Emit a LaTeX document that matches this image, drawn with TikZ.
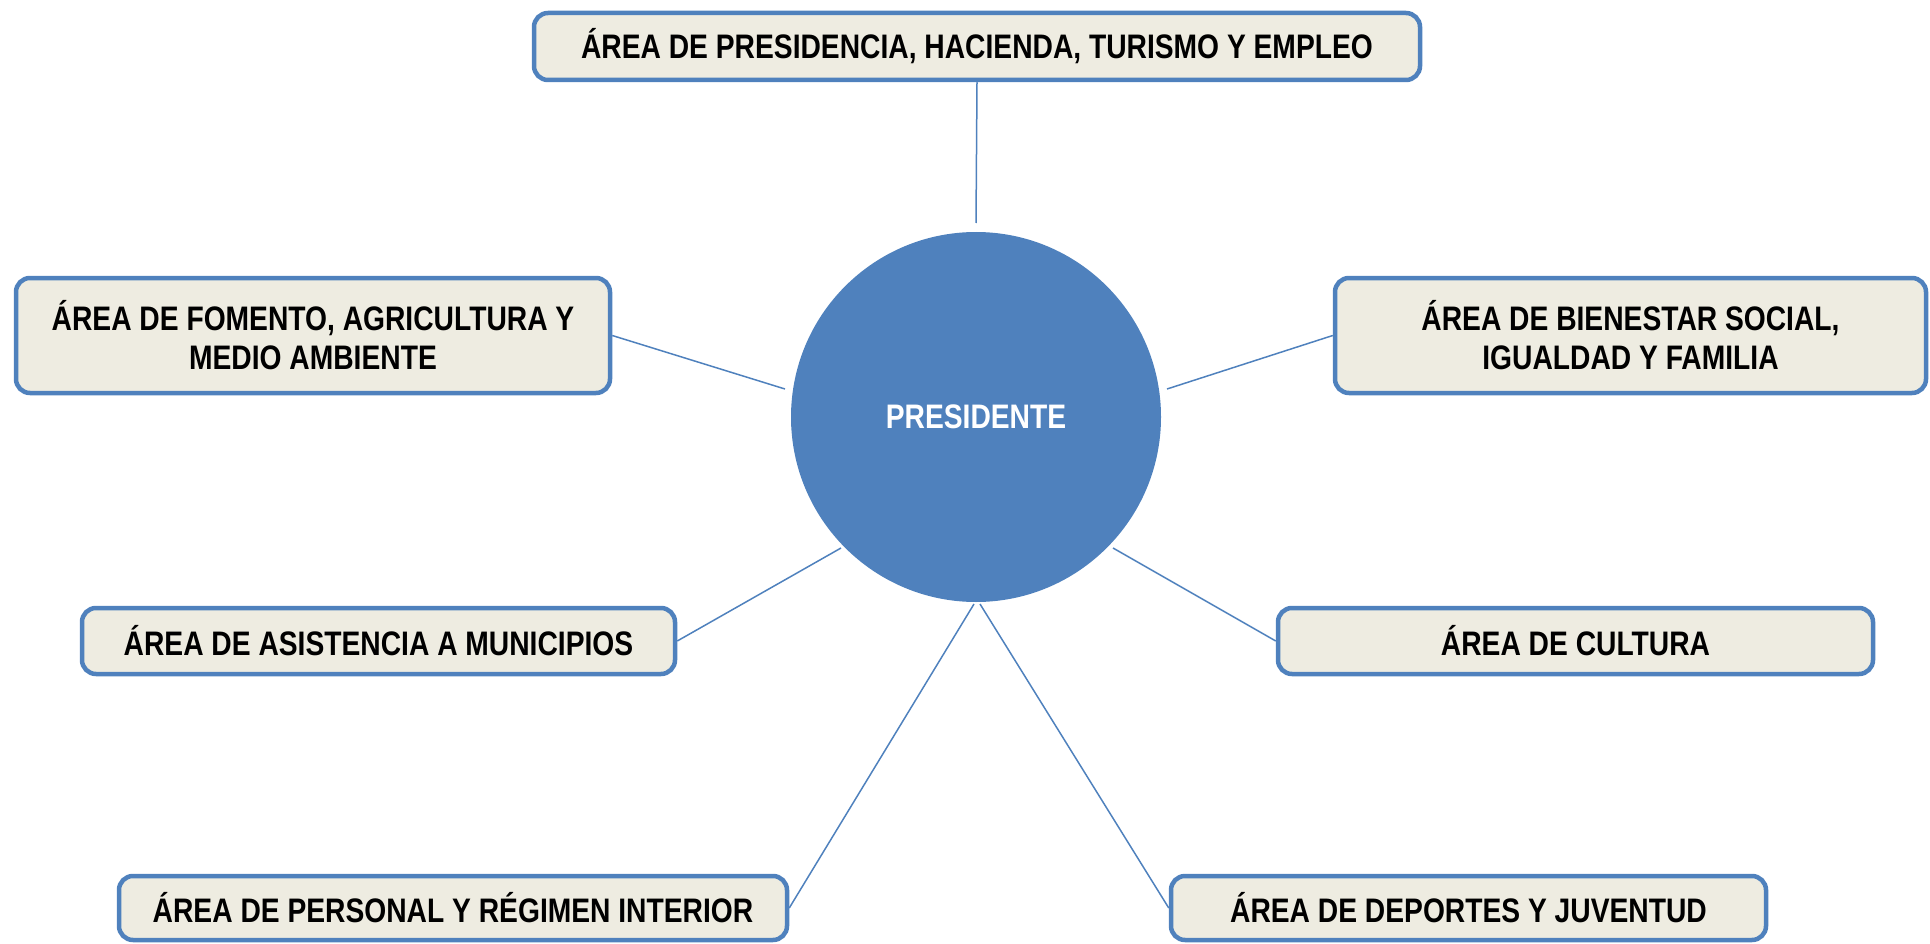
\documentclass[tikz,border=0pt]{standalone}
\usepackage{fontspec}
\setmainfont{Liberation Sans}[FakeStretch=0.83]
\definecolor{boxblue}{HTML}{4F81BD}
\definecolor{boxfill}{HTML}{EEECE1}
\begin{document}
\begin{tikzpicture}[x=1pt,y=-1pt,
  area/.style={draw=boxblue, line width=4.5pt, fill=boxfill, rounded corners=14pt,
    align=center, inner sep=0pt, font=\bfseries\fontsize{34}{39}\selectfont},
  link/.style={draw=boxblue, line width=1.5pt}]
\useasboundingbox (0,0) rectangle (1930,944);
\node[circle, fill=boxblue, minimum size=370pt, inner sep=0pt,
  font=\bfseries\fontsize{34}{39}\selectfont, text=white] (pres) at (976,417) {PRESIDENTE};
\node[area, minimum width=886pt, minimum height=67pt] (top) at (977,46.5)
  {ÁREA DE PRESIDENCIA, HACIENDA, TURISMO Y EMPLEO};
\node[area, minimum width=594pt, minimum height=115pt] (fom) at (313,335.5)
  {ÁREA DE FOMENTO, AGRICULTURA Y\\MEDIO AMBIENTE};
\node[area, minimum width=591pt, minimum height=115pt] (bien) at (1630.5,335.5)
  {ÁREA DE BIENESTAR SOCIAL,\\IGUALDAD Y FAMILIA};
\node[area, minimum width=593pt, minimum height=66pt] (asi) at (378.5,641)
  {ÁREA DE ASISTENCIA A MUNICIPIOS};
\node[area, minimum width=595pt, minimum height=66pt] (cul) at (1575.5,641)
  {ÁREA DE CULTURA};
\node[area, minimum width=668pt, minimum height=64pt] (per) at (453,908)
  {ÁREA DE PERSONAL Y RÉGIMEN INTERIOR};
\node[area, minimum width=595pt, minimum height=64pt] (dep) at (1468.5,908)
  {ÁREA DE DEPORTES Y JUVENTUD};
\coordinate (ctop) at (976,223);
\coordinate (cfl) at (785,389);
\coordinate (cbr) at (1167,389);
\coordinate (cal) at (841,548);
\coordinate (ccr) at (1113,548);
\coordinate (cpl) at (974,604);
\coordinate (cdr) at (980,604);
\draw[link] (top.south) -- (ctop);
\draw[link] (fom.east) -- (cfl);
\draw[link] (bien.west) -- (cbr);
\draw[link] (asi.east) -- (cal);
\draw[link] (cul.west) -- (ccr);
\draw[link] (per.east) -- (cpl);
\draw[link] (dep.west) -- (cdr);
\end{tikzpicture}
\end{document}
